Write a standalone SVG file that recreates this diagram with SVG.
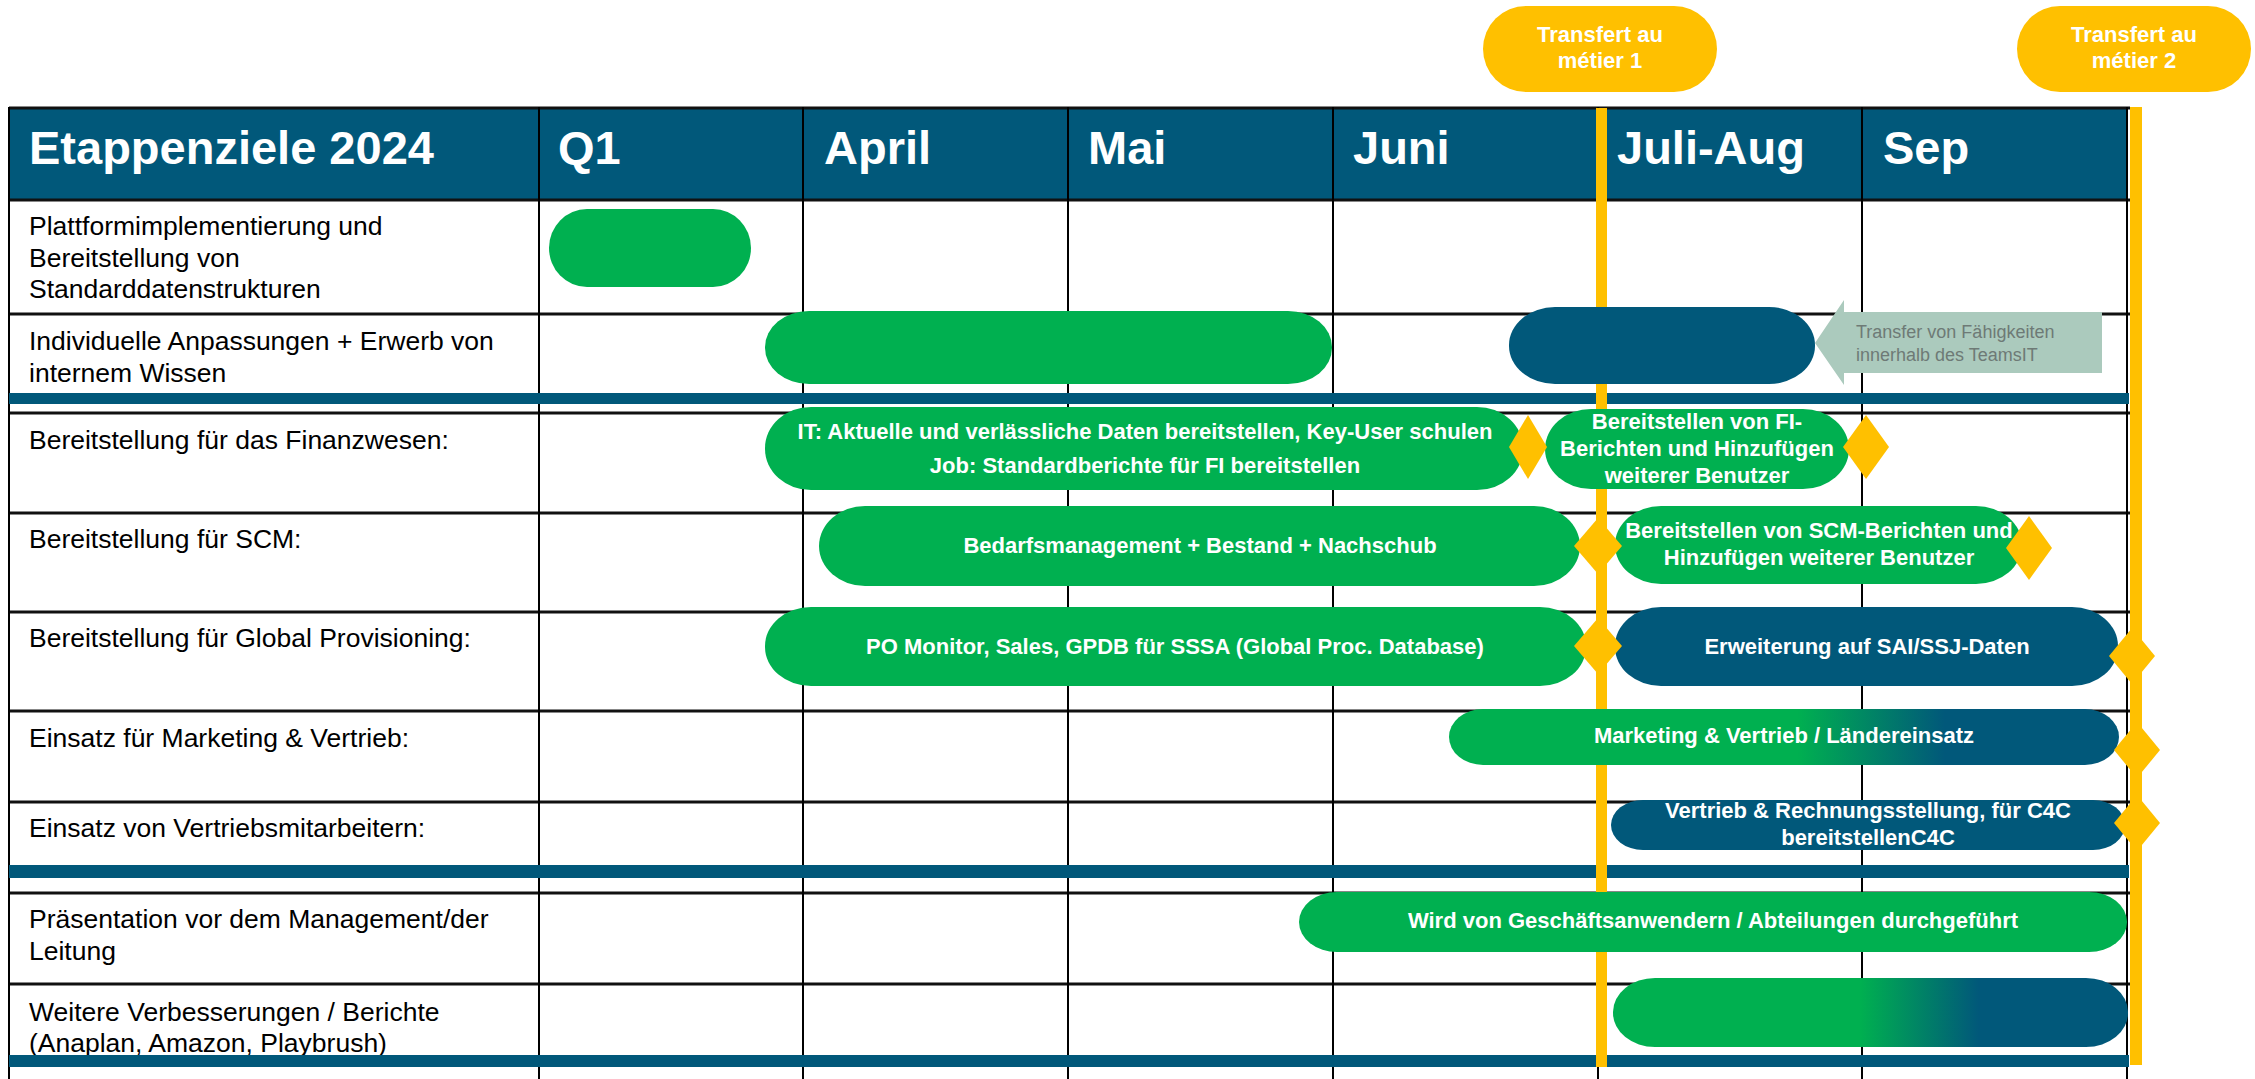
<svg xmlns="http://www.w3.org/2000/svg" width="2255" height="1079" viewBox="0 0 2255 1079">
<defs>
<style>
text{font-family:"Liberation Sans",Arial,sans-serif}
.hd{font-size:47px;font-weight:bold;fill:#fff}
.lb{font-size:26.5px;fill:#000}
.bt{font-size:22px;font-weight:bold;fill:#fff;text-anchor:middle}
.bd{font-size:22px;font-weight:bold;fill:#fff;text-anchor:middle}
.g{fill:#00B050}
.b{fill:#01587A}
.y{fill:#FFC000}
.hl{stroke:#111;stroke-width:3}
.vl{stroke:#000;stroke-width:2}
</style>
<linearGradient id="gr1" x1="0" y1="0" x2="1" y2="0">
<stop offset="0" stop-color="#00B050"/><stop offset="0.52" stop-color="#00B050"/><stop offset="0.74" stop-color="#01587A"/><stop offset="1" stop-color="#01587A"/>
</linearGradient>
<linearGradient id="gr2" x1="0" y1="0" x2="1" y2="0">
<stop offset="0" stop-color="#00B050"/><stop offset="0.48" stop-color="#00B050"/><stop offset="0.71" stop-color="#01587A"/><stop offset="1" stop-color="#01587A"/>
</linearGradient>
</defs>
<rect width="2255" height="1079" fill="#fff"/>
<g id="table">
<rect x="9" y="108" width="2118" height="92" class="b"/>
<g>
<line x1="9" y1="108" x2="2130" y2="108" class="hl"/>
<line x1="9" y1="200" x2="2130" y2="200" class="hl"/>
<line x1="9" y1="314" x2="2130" y2="314" class="hl"/>
<line x1="9" y1="413" x2="2130" y2="413" class="hl"/>
<line x1="9" y1="513" x2="2130" y2="513" class="hl"/>
<line x1="9" y1="612" x2="2130" y2="612" class="hl"/>
<line x1="9" y1="711" x2="2130" y2="711" class="hl"/>
<line x1="9" y1="802" x2="2130" y2="802" class="hl"/>
<line x1="9" y1="893" x2="2130" y2="893" class="hl"/>
<line x1="9" y1="984" x2="2130" y2="984" class="hl"/>
</g>
<g>
<line x1="9" y1="107" x2="9" y2="1079" class="vl"/>
<line x1="539" y1="107" x2="539" y2="1079" class="vl"/>
<line x1="803" y1="107" x2="803" y2="1079" class="vl"/>
<line x1="1068" y1="107" x2="1068" y2="1079" class="vl"/>
<line x1="1333" y1="107" x2="1333" y2="1079" class="vl"/>
<line x1="1598" y1="107" x2="1598" y2="1079" class="vl"/>
<line x1="1862" y1="107" x2="1862" y2="1079" class="vl"/>
<line x1="2127" y1="107" x2="2127" y2="1079" class="vl"/>
</g>
<g id="header-text">
<text x="29" y="164" class="hd">Etappenziele 2024</text>
<text x="558" y="164" class="hd">Q1</text>
<text x="824" y="164" class="hd">April</text>
<text x="1088" y="164" class="hd">Mai</text>
<text x="1353" y="164" class="hd">Juni</text>
<text x="1617" y="164" class="hd">Juli-Aug</text>
<text x="1883" y="164" class="hd">Sep</text>
</g>
<g id="row-labels">
<text x="29" y="235" class="lb">Plattformimplementierung und</text>
<text x="29" y="267" class="lb">Bereitstellung von</text>
<text x="29" y="298" class="lb">Standarddatenstrukturen</text>
<text x="29" y="350" class="lb">Individuelle Anpassungen + Erwerb von</text>
<text x="29" y="382" class="lb">internem Wissen</text>
<text x="29" y="449" class="lb">Bereitstellung für das Finanzwesen:</text>
<text x="29" y="548" class="lb">Bereitstellung für SCM:</text>
<text x="29" y="647" class="lb">Bereitstellung für Global Provisioning:</text>
<text x="29" y="747" class="lb">Einsatz für Marketing &amp; Vertrieb:</text>
<text x="29" y="837" class="lb">Einsatz von Vertriebsmitarbeitern:</text>
<text x="29" y="928" class="lb">Präsentation vor dem Management/der</text>
<text x="29" y="960" class="lb">Leitung</text>
<text x="29" y="1021" class="lb">Weitere Verbesserungen / Berichte</text>
<text x="29" y="1052" class="lb">(Anaplan, Amazon, Playbrush)</text>
</g>
<g id="separators">
<rect x="9" y="393" width="2120" height="11" class="b"/>
<rect x="9" y="865" width="2120" height="13" class="b"/>
<rect x="9" y="1055" width="2120" height="12" class="b"/>
</g>
</g>
<g id="milestones">
<rect x="1596" y="108" width="11" height="959" class="y"/>
<rect x="2130" y="107" width="12" height="958" class="y"/>
</g>
<g id="badge-1">
<rect x="1483" y="6" width="234" height="86" rx="43" ry="43" class="y"/>
<text x="1600" y="42" class="bt">Transfert au</text>
<text x="1600" y="68" class="bt">métier 1</text>
</g>
<g id="badge-2">
<rect x="2017" y="6" width="234" height="86" rx="43" ry="43" class="y"/>
<text x="2134" y="42" class="bt">Transfert au</text>
<text x="2134" y="68" class="bt">métier 2</text>
</g>
<g id="bar-platform"><rect x="549" y="209" width="202" height="78" rx="38" ry="39" class="g"/></g>
<g id="bar-anpassungen"><rect x="765" y="311" width="567" height="73" rx="44" ry="36" class="g"/></g>
<g id="bar-transfer-it"><rect x="1509" y="307" width="306" height="77" rx="46" ry="38" class="b"/></g>
<g id="callout-transfer">
<polygon points="1815,343 1844,300 1844,312 2102,312 2102,373 1844,373 1844,385" fill="#ABCABD"/>
<text x="1856" y="338" font-size="18" fill="#6E7A76">Transfer von Fähigkeiten</text>
<text x="1856" y="361" font-size="18" fill="#6E7A76">innerhalb des TeamsIT</text>
</g>
<g id="bar-fi-it">
<rect x="765" y="407" width="758" height="83" rx="46" ry="41" class="g"/>
<text x="1145" y="439" class="bd">IT: Aktuelle und verlässliche Daten bereitstellen, Key-User schulen</text>
<text x="1145" y="473" class="bd">Job: Standardberichte für FI bereitstellen</text>
</g>
<g id="bar-fi-reports">
<rect x="1545" y="409" width="304" height="80" rx="46" ry="40" class="g"/>
<text x="1697" y="429" class="bd">Bereitstellen von FI-</text>
<text x="1697" y="456" class="bd">Berichten und Hinzufügen</text>
<text x="1697" y="483" class="bd">weiterer Benutzer</text>
</g>
<g id="bar-scm-1">
<rect x="819" y="506" width="761" height="80" rx="46" ry="40" class="g"/>
<text x="1200" y="553" class="bd">Bedarfsmanagement + Bestand + Nachschub</text>
</g>
<g id="bar-scm-2">
<rect x="1615" y="506" width="407" height="78" rx="46" ry="39" class="g"/>
<text x="1819" y="538" class="bd">Bereitstellen von SCM-Berichten und</text>
<text x="1819" y="565" class="bd">Hinzufügen weiterer Benutzer</text>
</g>
<g id="bar-gp-1">
<rect x="765" y="607" width="821" height="79" rx="46" ry="39" class="g"/>
<text x="1175" y="654" class="bd">PO Monitor, Sales, GPDB für SSSA (Global Proc. Database)</text>
</g>
<g id="bar-gp-2">
<rect x="1615" y="607" width="503" height="79" rx="46" ry="39" class="b"/>
<text x="1867" y="654" class="bd">Erweiterung auf SAI/SSJ-Daten</text>
</g>
<g id="bar-marketing">
<rect x="1449" y="709" width="670" height="56" rx="34" ry="28" fill="url(#gr1)"/>
<text x="1784" y="743" class="bd">Marketing &amp; Vertrieb / Ländereinsatz</text>
</g>
<g id="bar-vertrieb">
<rect x="1611" y="800" width="514" height="50" rx="32" ry="25" class="b"/>
<text x="1868" y="818" class="bd">Vertrieb &amp; Rechnungsstellung, für C4C</text>
<text x="1868" y="845" class="bd">bereitstellenC4C</text>
</g>
<g id="bar-management">
<rect x="1299" y="892" width="828" height="60" rx="38" ry="30" class="g"/>
<text x="1713" y="928" class="bd">Wird von Geschäftsanwendern / Abteilungen durchgeführt</text>
</g>
<g id="bar-improvements"><rect x="1613" y="978" width="515" height="69" rx="42" ry="34" fill="url(#gr2)"/></g>
<g id="diamonds">
<polygon points="1528,415 1547,447 1528,479 1509,447" class="y"/>
<polygon points="1866,415 1889,447 1866,479 1843,447" class="y"/>
<polygon points="1598,518 1622,546 1598,574 1574,546" class="y"/>
<polygon points="2029,516 2052,548 2029,580 2006,548" class="y"/>
<polygon points="1598,618 1622,646 1598,674 1574,646" class="y"/>
<polygon points="2132,628 2155,656 2132,684 2109,656" class="y"/>
<polygon points="2137,722 2160,750 2137,778 2114,750" class="y"/>
<polygon points="2137,795 2160,823 2137,851 2114,823" class="y"/>
</g>
</svg>
